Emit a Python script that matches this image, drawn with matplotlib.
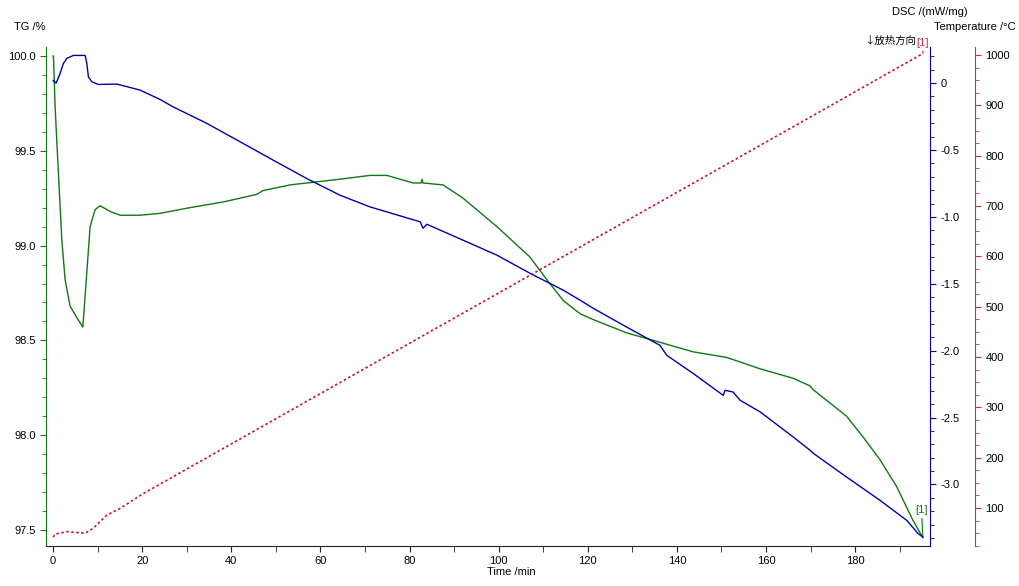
import numpy as np
import matplotlib.pyplot as plt
from matplotlib.ticker import MultipleLocator, FuncFormatter

plt.rcParams['font.family'] = ['Liberation Sans', 'DejaVu Sans']
plt.rcParams['font.size'] = 8

# TG curve (time /min, mass /%)
tg_time = [0.0, 0.07, 0.45, 1.19, 1.95, 2.69, 3.81, 5.32, 6.67, 7.56, 8.30, 9.43, 10.55,
           12.79, 15.04, 19.52, 24.0, 30.7, 38.2, 45.7, 47.1, 53.2, 64.4, 71.1, 74.9,
           80.8, 82.6, 82.8, 83.0, 87.5, 92.0, 99.6, 107.0, 110.8, 114.5, 118.3, 121.2,
           128.7, 136.2, 143.6, 151.2, 158.7, 166.1, 169.9, 170.6, 178.1, 181.8, 185.6,
           189.3, 193.0, 195.2]
tg_val = [100.0, 100.0, 99.73, 99.38, 99.03, 98.82, 98.68, 98.62, 98.57, 98.86, 99.10,
          99.19, 99.21, 99.18, 99.16, 99.16, 99.17, 99.20, 99.23, 99.27, 99.29, 99.32,
          99.35, 99.37, 99.37, 99.33, 99.33, 99.35, 99.33, 99.32, 99.25, 99.10, 98.94,
          98.82, 98.71, 98.64, 98.61, 98.54, 98.49, 98.44, 98.41, 98.35, 98.30, 98.26,
          98.24, 98.10, 97.99, 97.87, 97.73, 97.55, 97.46]

# DSC curve (time /min, mW/mg)
dsc_time = [0.0, 0.67, 1.57, 2.31, 3.07, 4.56, 7.18, 7.56, 7.92, 8.68, 10.17, 14.3, 19.5,
            24.0, 26.9, 34.5, 42.0, 49.4, 56.9, 64.4, 71.1, 82.4, 83.0, 83.9, 92.0, 99.6,
            107.0, 114.5, 118.3, 121.2, 128.7, 136.2, 137.7, 143.6, 150.4, 150.8, 152.6,
            154.2, 158.7, 166.1, 169.9, 170.6, 178.1, 185.6, 191.6, 194.1, 195.2]
dsc_val = [0.02, 0.0, 0.073, 0.147, 0.185, 0.207, 0.207, 0.147, 0.047, 0.010, -0.010,
           -0.007, -0.052, -0.122, -0.177, -0.301, -0.439, -0.576, -0.713, -0.838, -0.925,
           -1.037, -1.085, -1.055, -1.174, -1.286, -1.421, -1.548, -1.623, -1.683, -1.823,
           -1.960, -2.034, -2.169, -2.334, -2.296, -2.309, -2.371, -2.458, -2.645, -2.745,
           -2.767, -2.945, -3.119, -3.269, -3.366, -3.393]

# Temperature program (time /min, °C)
temp_time = [0.0, 0.45, 3.1, 7.2, 9.05, 12.05, 15.0, 20.1, 195.2]
temp_val = [42, 48, 53, 50, 60, 86, 99, 128, 1003]

green = '#117711'
blue = '#0000aa'
red = '#cc1133'
red_axis = '#c83040'

fig = plt.figure(figsize=(10.2, 5.86), dpi=100)
ax = fig.add_axes([46/1020, 1-546/586, (930-46)/1020, (546-47)/586])
ax2 = ax.twinx()
ax3 = ax.twinx()

ax.plot(tg_time, tg_val, color=green, lw=1)
ax2.plot(dsc_time, dsc_val, color=blue, lw=1)
ax3.plot(temp_time, temp_val, color=red, lw=1.2, ls=(0, (1.5, 1.5)))

ax.set_xlim(-1.6, 196.8)
ax.set_ylim(97.416, 100.047)
ax2.set_ylim(-3.46, 0.27)
ax3.set_ylim(24.5, 1016)

for a in (ax, ax2, ax3):
    a.spines['top'].set_visible(False)
ax.spines['right'].set_visible(False)
ax2.spines['left'].set_visible(False)
ax2.spines['bottom'].set_visible(False)
ax3.spines['left'].set_visible(False)
ax3.spines['bottom'].set_visible(False)
ax.spines['left'].set_color(green)
ax.spines['bottom'].set_color('#222222')
ax2.spines['right'].set_color(blue)
ax3.spines['right'].set_color(red_axis)
ax3.spines['right'].set_position(('outward', 32.4))

ax.xaxis.set_major_locator(MultipleLocator(20))
ax.xaxis.set_minor_locator(MultipleLocator(10))
ax.yaxis.set_major_locator(MultipleLocator(0.5))
ax.yaxis.set_minor_locator(MultipleLocator(0.1))
ax.yaxis.set_major_formatter(FuncFormatter(lambda v, p: f'{v:.1f}'))
ax2.yaxis.set_major_locator(MultipleLocator(0.5))
ax2.yaxis.set_minor_locator(MultipleLocator(0.1))
ax2.yaxis.set_major_formatter(FuncFormatter(lambda v, p: '0' if abs(v) < 1e-9 else f'{v:.1f}'))
ax3.yaxis.set_major_locator(MultipleLocator(100))
ax3.yaxis.set_minor_locator(MultipleLocator(25))

ax.tick_params(axis='x', which='both', direction='out', length=4, color='#222222', labelsize=8)
ax.tick_params(axis='y', which='major', direction='out', length=4, color=green, labelsize=8)
ax.tick_params(axis='y', which='minor', direction='out', length=3, color=green)
ax2.tick_params(axis='y', which='major', direction='out', length=4, color=blue, labelsize=8)
ax2.tick_params(axis='y', which='minor', direction='out', length=3, color=blue)
ax3.tick_params(axis='y', which='major', direction='out', length=4, color=red_axis, labelsize=8)
ax3.tick_params(axis='y', which='minor', direction='out', length=3, color=red_axis)

fig.text(30/1020, 1-27/586, 'TG /%', ha='center', va='center', fontsize=8)
fig.text(930/1020, 1-12/586, 'DSC /(mW/mg)', ha='center', va='center', fontsize=8)
fig.text(975/1020, 1-27/586, 'Temperature /°C', ha='center', va='center', fontsize=8)
fig.text(511/1020, 1-572/586, 'Time /min', ha='center', va='center', fontsize=8)
fig.text(916/1020, 1-41/586, '↓放热方向', ha='right', va='center', fontsize=7.5,
         family=['Noto Sans CJK SC', 'DejaVu Sans'])

ax.annotate('[1]', xy=(tg_time[-1], tg_val[-1]), xytext=(-1, 16), textcoords='offset points',
            ha='center', va='bottom', color=green, fontsize=8,
            arrowprops=dict(arrowstyle='-', color=green, lw=0.8, shrinkA=0, shrinkB=0))
ax3.annotate('[1]', xy=(temp_time[-1], temp_val[-1]), xytext=(0, 4), textcoords='offset points',
             ha='center', va='bottom', color=red_axis, fontsize=8, annotation_clip=False,
             arrowprops=dict(arrowstyle='-', color=red_axis, lw=0.8, shrinkA=0, shrinkB=0))

fig.savefig('out.png', dpi=100)
